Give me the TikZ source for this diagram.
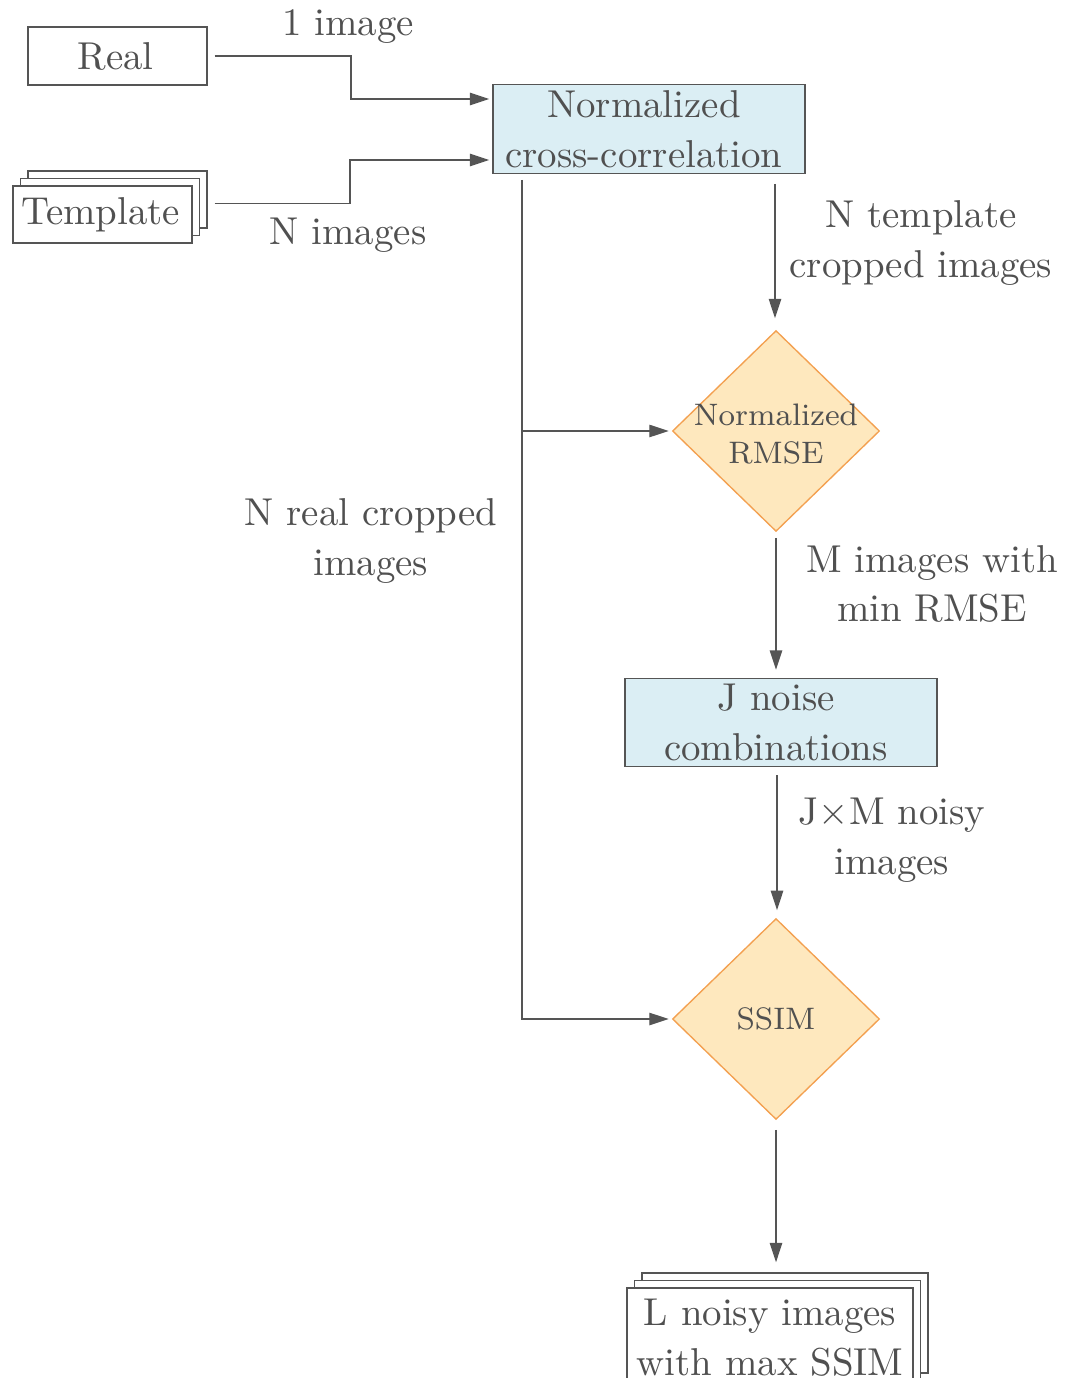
\documentclass[tikz,border=0pt]{standalone}
\usetikzlibrary{shapes.geometric,arrows.meta,shadows,calc}
\definecolor{tc}{RGB}{80,80,80}
\definecolor{lc}{RGB}{85,85,85}
\definecolor{bfill}{RGB}{219,238,244}
\definecolor{dfill}{RGB}{254,232,190}
\definecolor{ddraw}{RGB}{243,160,80}
\newcommand{\lsh}{\hspace*{2.6pt}}
\begin{document}
\begin{tikzpicture}[x=0.2574pt,y=-0.2574pt,
  font=\fontsize{10}{12.8}\selectfont, text=tc,
  plain/.style={draw=lc,line width=0.35pt,fill=white,inner sep=0pt,align=center},
  bluebox/.style={draw=lc,line width=0.35pt,fill=bfill,inner sep=0pt,align=center,minimum width=80.3pt,minimum height=22.8pt},
  stack/.style={plain,double copy shadow={shadow xshift=1.93pt,shadow yshift=1.93pt}},
  dia/.style={diamond,draw=ddraw,line width=0.35pt,fill=dfill,inner sep=0pt,minimum width=53.3pt,minimum height=51.7pt},
  dtext/.style={font=\fontsize{8}{10}\selectfont,align=center,inner sep=0pt},
  lbl/.style={align=center,inner sep=0pt},
  conn/.style={draw=lc,line width=0.35pt},
  arr/.style={conn,-{Triangle[length=5pt,width=3.2pt]},shorten >=0.8pt},
]
\useasboundingbox (0,0) rectangle (1077,1378);

% nodes
\node[plain,minimum width=46.1pt,minimum height=14.9pt] (real) at (117.5,56) {Real\hspace*{1pt}};
\node[stack,minimum width=46.1pt,minimum height=14.7pt] (tmpl) at (102.5,214.5) {Template\hspace*{1pt}};
\node[bluebox] (ncc) at (649,129) {Normalized\lsh\\cross-correlation\lsh};
\node[dia] (rmse) at (776,431) {};
\node[dtext] (rmset) at (776,434) {Normalized\\RMSE};
\node[bluebox] (noise) at (781,722.5) {J noise\lsh\\combinations\lsh};
\node[dia] (ssim) at (776,1019) {};
\node[dtext] (ssimt) at (776,1019) {SSIM};
\node[stack,minimum width=73.6pt,minimum height=25.7pt] (out) at (770,1338) {L noisy images\\with max SSIM};

% labels
\node[lbl] (l1) at (348,27) {1 image};
\node[lbl] (l2) at (348,235) {N images};
\node[lbl] (l3) at (921,243) {N template\\cropped images};
\node[lbl] (l4) at (932,584) {M images with\\min RMSE};
\node[lbl] (l5) at (892,840) {J$\times$M noisy\\images};
\node[lbl] (l6) at (371,541) {N real cropped\\images};

% coordinates
\coordinate (nccin1) at ($(ncc.west)+(0,-30)$);
\coordinate (nccin2) at ($(ncc.west)+(0,31)$);
\coordinate (trunk) at (522,173);

% connectors
\draw[arr,shorten <=1.8pt] (real.east) -- (351,56) |- (nccin1);
\draw[arr,shorten <=1.8pt] ($(real.east |- tmpl.east)+(0,-11)$) -- (350,203.5) |- (nccin2);
\draw[arr,shorten <=1.8pt] (trunk) |- (ssim.west);
\draw[arr] (trunk |- rmse.west) -- (rmse.west);
\draw[arr,shorten <=2.8pt,shorten >=3pt] (775,173) -- (rmse.north -| 775,0);
\draw[arr,shorten <=1.5pt,shorten >=2pt] (rmse.south) -- (noise.north -| rmse.south);
\draw[arr,shorten <=2pt,shorten >=2pt] (noise.south -| 777,0) -- (ssim.north -| 777,0);
\draw[arr,shorten <=2.5pt,shorten >=2.6pt] (ssim.south) -- ($(out.north -| ssim.south)+(0,-15)$);
\end{tikzpicture}
\end{document}
